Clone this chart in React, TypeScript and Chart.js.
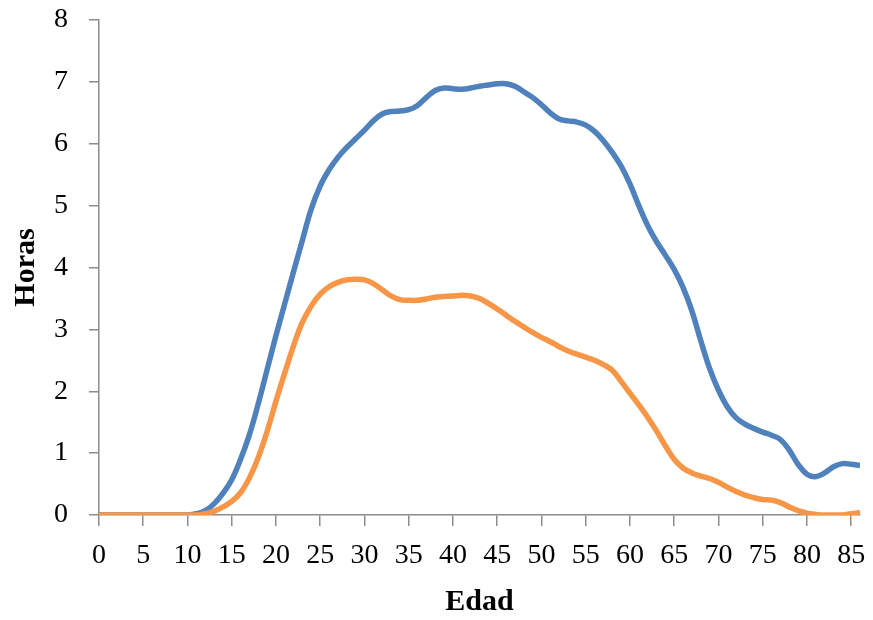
import React, { useEffect, useRef } from "react";
import { Chart, registerables } from "chart.js";

Chart.register(...registerables);

const ages = [
  0, 1, 2, 3, 4, 5, 6, 7, 8, 9, 10, 11, 12, 13, 14, 15, 16, 17, 18, 19, 20,
  21, 22, 23, 24, 25, 26, 27, 28, 29, 30, 31, 32, 33, 34, 35, 36, 37, 38, 39, 40,
  41, 42, 43, 44, 45, 46, 47, 48, 49, 50, 51, 52, 53, 54, 55, 56, 57, 58, 59, 60,
  61, 62, 63, 64, 65, 66, 67, 68, 69, 70, 71, 72, 73, 74, 75, 76, 77, 78, 79, 80,
  81, 82, 83, 84, 85, 86,
];

const blueHours = [
  0, 0, 0, 0, 0, 0, 0, 0, 0, 0, 0, 0.02, 0.07, 0.18, 0.35, 0.57, 0.9, 1.3, 1.8, 2.35, 2.9,
  3.42, 3.94, 4.45, 4.95, 5.32, 5.58, 5.78, 5.94, 6.08, 6.22, 6.37, 6.48, 6.52, 6.53, 6.55, 6.62, 6.75, 6.86, 6.9, 6.89,
  6.88, 6.9, 6.93, 6.95, 6.97, 6.97, 6.93, 6.84, 6.75, 6.63, 6.5, 6.4, 6.37, 6.35, 6.3, 6.2, 6.05, 5.86, 5.64, 5.35,
  5.0, 4.68, 4.42, 4.2, 3.97, 3.68, 3.3, 2.82, 2.37, 2.02, 1.75, 1.57, 1.47, 1.4, 1.34, 1.29, 1.22, 1.05, 0.82, 0.66,
  0.62, 0.68, 0.78, 0.83, 0.82, 0.8,
];

const orangeHours = [
  0, 0, 0, 0, 0, 0, 0, 0, 0, 0, 0, 0, 0.02, 0.06, 0.13, 0.22, 0.36, 0.6, 0.93, 1.35, 1.84,
  2.3, 2.74, 3.12, 3.38, 3.57, 3.69, 3.76, 3.8, 3.81, 3.8, 3.74, 3.64, 3.54, 3.48, 3.47, 3.47, 3.49, 3.52, 3.53, 3.54,
  3.55, 3.54, 3.5, 3.42, 3.33, 3.23, 3.13, 3.04, 2.95, 2.87, 2.8, 2.72, 2.65, 2.6, 2.55, 2.5, 2.43, 2.34, 2.16, 1.97,
  1.78, 1.58, 1.36, 1.12, 0.9, 0.76, 0.68, 0.63, 0.59, 0.53, 0.45, 0.38, 0.32, 0.28, 0.25, 0.24, 0.2, 0.13, 0.07, 0.03,
  0.01, 0, 0, 0, 0.02, 0.04,
];

const xTitle = "Edad";
const yTitle = "Horas";

export default function App() {
  const ref = useRef<HTMLCanvasElement | null>(null);

  useEffect(() => {
    document.body.style.margin = "0";
    const canvas = ref.current;
    if (!canvas) return;
    const axisColor = "#8c8c8c";
    const tickFont = { family: "'Liberation Serif', 'Times New Roman', serif", size: 28 };
    const titleFont = { family: "'Liberation Serif', 'Times New Roman', serif", size: 30, weight: "bold" as const };
    const chart = new Chart(canvas, {
      type: "line",
      data: {
        datasets: [
          {
            label: "orange",
            data: ages.map((a, i) => ({ x: a, y: orangeHours[i] })),
            borderColor: "#F79646",
            backgroundColor: "#F79646",
            borderWidth: 5.5,
            pointRadius: 0,
            tension: 0.4,
            fill: false,
          },
          {
            label: "blue",
            data: ages.map((a, i) => ({ x: a, y: blueHours[i] })),
            borderColor: "#4F81BD",
            backgroundColor: "#4F81BD",
            borderWidth: 5.5,
            pointRadius: 0,
            tension: 0.4,
            fill: false,
          },
        ],
      },
      options: {
        animation: false,
        responsive: true,
        maintainAspectRatio: false,
        layout: { padding: { top: 20, right: 13, bottom: 0, left: 0 } },
        plugins: { legend: { display: false }, tooltip: { enabled: false } },
        scales: {
          x: {
            type: "linear",
            min: 0,
            max: 86,
            grid: { drawOnChartArea: false, drawTicks: true, tickLength: 11, color: axisColor, lineWidth: 1.5 },
            border: { color: axisColor, width: 1.5 },
            ticks: {
              stepSize: 5,
              includeBounds: false,
              autoSkip: false,
              maxRotation: 0,
              color: "#000",
              font: tickFont,
              padding: 13,
            },
            title: { display: true, text: xTitle, color: "#000", font: titleFont, padding: { top: 0, bottom: 0 } },
            afterFit: (s: any) => {
              s.height = 105;
              s.paddingLeft = 0;
              s.paddingRight = 0;
            },
          },
          y: {
            min: 0,
            max: 8,
            grid: { drawOnChartArea: false, drawTicks: true, tickLength: 10, color: axisColor, lineWidth: 1.5 },
            border: { color: axisColor, width: 1.5 },
            ticks: { stepSize: 1, color: "#000", font: tickFont, padding: 21 },
            title: { display: true, text: yTitle, color: "#000", font: titleFont, padding: { top: 8, bottom: 0 } },
            afterFit: (s: any) => {
              s.width = 99;
              s.paddingTop = 0;
              s.paddingBottom = 0;
            },
          },
        },
      },
    });
    return () => chart.destroy();
  }, []);

  return (
    <div style={{ width: 873, height: 620, position: "relative" }}>
      <canvas ref={ref} />
    </div>
  );
}
